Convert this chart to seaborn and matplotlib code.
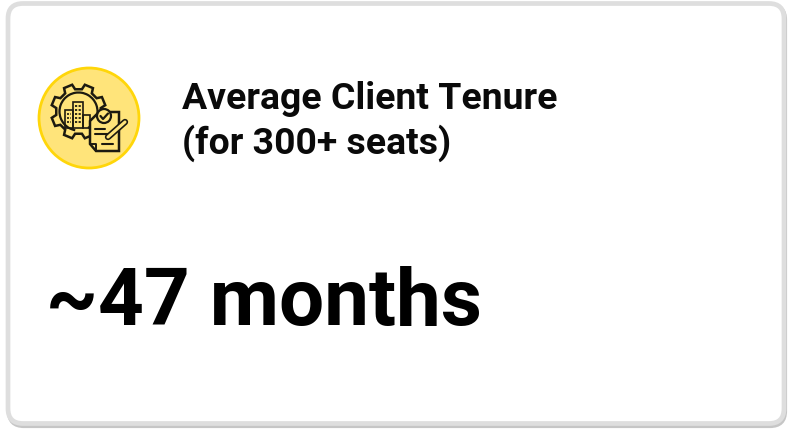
import numpy as np
import seaborn as sns
import matplotlib.pyplot as plt
from matplotlib.patches import FancyBboxPatch, Circle, Polygon, Rectangle, Arc

title_lines = ['Average Client Tenure', '(for 300+ seats)']
big_value = '~47 months'

sns.set_theme(style='white')
plt.rcParams['font.family'] = ['Roboto', 'DejaVu Sans']

fig, ax = plt.subplots(figsize=(7.9, 4.29), dpi=100)
fig.subplots_adjust(0, 0, 1, 1)
ax.set_xlim(0, 790)
ax.set_ylim(429, 0)
ax.axis('off')

# card, shadow first
ax.add_patch(FancyBboxPatch((9, 5), 776, 421, boxstyle='round,pad=0,rounding_size=15',
                            fc='none', ec='#c6c6c6', lw=3))
ax.add_patch(FancyBboxPatch((8, 3.5), 776, 420, boxstyle='round,pad=0,rounding_size=15',
                            fc='white', ec='#dedede', lw=3.4))

# icon
ink = '#1c1a10'
ax.add_patch(Circle((89, 118), 50, fc='#ffe47a', ec='#ffd60a', lw=2))

gx, gy = 78.5, 111.5
angles = np.linspace(0, 2 * np.pi, 8, endpoint=False)
gear = []
for a in angles:
    for da, r in [(-0.24, 22.5), (-0.16, 27.5), (0.16, 27.5), (0.24, 22.5)]:
        gear.append((gx + r * np.cos(a + da + np.pi / 8), gy + r * np.sin(a + da + np.pi / 8)))
ax.add_patch(Polygon(gear, closed=True, fc='none', ec=ink, lw=1.8))
ax.add_patch(Arc((gx, gy), 38, 38, theta1=100, theta2=420, ec=ink, lw=1.6))

ax.add_patch(Rectangle((73, 102), 10, 26, fc='none', ec=ink, lw=1.2))
ax.add_patch(Rectangle((65, 110), 8, 18, fc='none', ec=ink, lw=1.2))
ax.add_patch(Rectangle((83, 115), 7, 13, fc='none', ec=ink, lw=1.2))
for wy in range(106, 126, 4):
    ax.plot([75, 81], [wy, wy], color=ink, lw=1.3, ls=(0, (1.2, 0.8)))
for wy in range(114, 126, 4):
    ax.plot([67, 71], [wy, wy], color=ink, lw=1.2, ls=(0, (1.2, 0.8)))

ax.add_patch(Polygon([(99, 112), (119, 112), (119, 151), (96, 151), (90, 144), (90, 121)],
                     closed=True, fc='#ffe47a', ec=ink, lw=1.8))
ax.plot([90, 96, 96], [144, 144, 151], color=ink, lw=1.4)
ax.add_patch(Circle((104, 116), 7, fc='#ffe47a', ec=ink, lw=1.6))
ax.plot([100.5, 103, 108], [116, 119, 113.5], color=ink, lw=1.6)
ax.plot([95, 105], [129, 129], color=ink, lw=1.5)
ax.plot([95, 108], [134, 134], color=ink, lw=1.5)
ax.plot([102, 113], [144, 144], color=ink, lw=1.5)
ax.plot([108, 125], [137, 122], color=ink, lw=4.6, solid_capstyle='round')
ax.plot([108, 125], [137, 122], color='#ffe47a', lw=2.2, solid_capstyle='round')

# text
ax.text(182, 109, title_lines[0], fontsize=26.9, fontweight='bold', color='#0a0a0a', va='baseline')
ax.text(182, 154, title_lines[1], fontsize=26.9, fontweight='bold', color='#0a0a0a', va='baseline')
ax.text(46.5, 325, big_value, fontsize=57.6, fontweight='bold', color='black', va='baseline')

fig.savefig('out.png', dpi=100, facecolor='white')
